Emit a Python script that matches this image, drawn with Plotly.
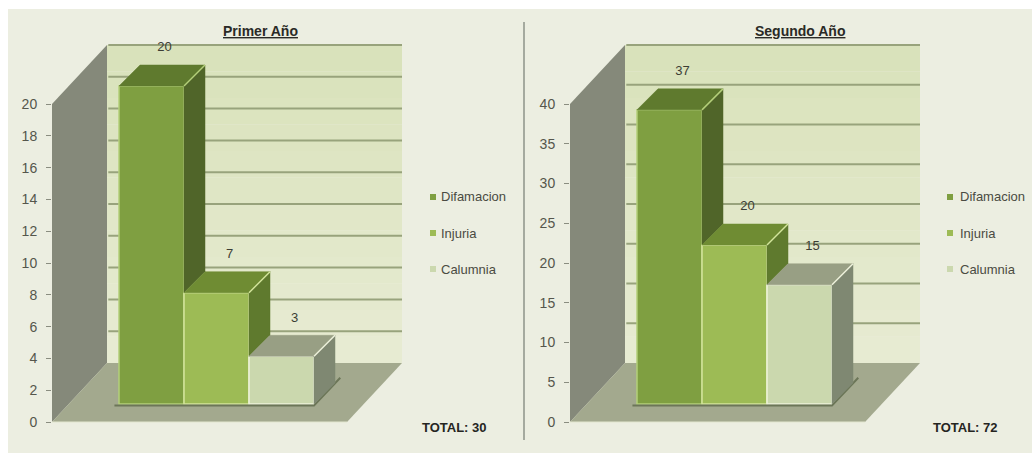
import plotly.graph_objects as go

categories = ["Difamacion", "Injuria", "Calumnia"]
titles = ["Primer Año", "Segundo Año"]
values_first = [20, 7, 3]
values_second = [37, 20, 15]
ticks_first = [0, 2, 4, 6, 8, 10, 12, 14, 16, 18, 20]
ticks_second = [0, 5, 10, 15, 20, 25, 30, 35, 40]
totals = ["TOTAL: 30", "TOTAL: 72"]

W, H = 1032, 454
FONT = "Liberation Sans, sans-serif"
FRONT = ["#7f9f41", "#9dbb55", "#cbd8ae"]
TOP = ["#5f7a2e", "#6f8c33", "#989f84"]
SIDE = ["#506529", "#5f7a2e", "#7f8872"]
EDGE = ["#b4cf7a", "#d3e59c", "#eef2dc"]
Y0, PX_TOP, PX_BOTTOM = 422, 30, 445
WALL_DX, WALL_DY, FLOOR_W, BAR_W, BAR_DX, BAR_DY, BASE_PX = 55, 59, 295, 65, 21, 21, 18

panels = [
    dict(values=values_first, ticks=ticks_first, ax=52, dom_end=515, bar0=119, pxu=15.9,
         title_x=260, leg_sw=433, leg_tx=439, total_x=454, suffix=""),
    dict(values=values_second, ticks=ticks_second, ax=570, dom_end=1030, bar0=637, pxu=7.95,
         title_x=800, leg_sw=950, leg_tx=958, total_x=965, suffix="2"),
]


def lerp(c1, c2, t):
    a = [int(c1[i:i + 2], 16) for i in (1, 3, 5)]
    b = [int(c2[i:i + 2], 16) for i in (1, 3, 5)]
    return "#" + "".join(f"{round(p + (q - p) * t):02x}" for p, q in zip(a, b))


fig = go.Figure()
shapes = [
    dict(type="rect", xref="paper", yref="paper", x0=8 / W, x1=1, y0=1 / H, y1=1 - 9 / H,
         fillcolor="#eceee1", line_width=0, layer="below"),
    dict(type="line", xref="paper", yref="paper", x0=524 / W, x1=524 / W, y0=1 - 440 / H, y1=1 - 22 / H,
         line=dict(color="#8e9388", width=1.5), layer="below"),
]
annotations = []

for p in panels:
    s = p["suffix"]
    xa, ya = "x" + s, "y" + s
    pxu = p["pxu"]
    # x unit: one bar width; x = 0 is the centre of the first bar
    cx0 = p["bar0"] + BAR_W / 2
    X = lambda px, c=cx0: (px - c) / BAR_W
    V = lambda py, u=pxu: (Y0 - py) / u
    ddx, wdy = WALL_DX / BAR_W, WALL_DY / pxu
    bdx, bdy = BAR_DX / BAR_W, BAR_DY / pxu
    base = BASE_PX / pxu
    ax = X(p["ax"])
    floor = FLOOR_W / BAR_W
    vmax = max(p["ticks"])

    fig.update_layout({
        "xaxis" + s: dict(domain=[p["ax"] / W, p["dom_end"] / W], range=[ax, X(p["dom_end"])],
                          visible=False, fixedrange=True),
        "yaxis" + s: dict(domain=[1 - PX_BOTTOM / H, 1 - PX_TOP / H], range=[V(PX_BOTTOM), V(PX_TOP)],
                          anchor=xa, tickvals=p["ticks"], ticks="outside", ticklen=5, tickcolor="#8a8d80",
                          tickwidth=1, showgrid=False, zeroline=False, showline=False, ticklabelstandoff=6,
                          tickfont=dict(family=FONT, size=14, color="#55564c"), fixedrange=True),
    })

    def poly(pts, color):
        path = "M" + " L".join(f"{a},{b}" for a, b in pts) + " Z"
        shapes.append(dict(type="path", xref=xa, yref=ya, path=path, fillcolor=color, line_width=0, layer="below"))

    # back wall as soft vertical gradient
    n = 12
    for i in range(n):
        lo, hi = vmax * i / n, vmax * (i + 1) / n
        poly([(ax + ddx, lo + wdy), (ax + ddx + floor, lo + wdy), (ax + ddx + floor, hi + wdy), (ax + ddx, hi + wdy)],
             lerp("#e7ebd2", "#d9e2bb", i / (n - 1)))
    # gridlines on the back wall
    for t in p["ticks"][1:]:
        shapes.append(dict(type="line", xref=xa, yref=ya, x0=ax + ddx + 0.02, x1=ax + ddx + floor,
                           y0=t + wdy, y1=t + wdy, line=dict(color="#98a37c", width=2), layer="below"))
    # side wall and floor
    poly([(ax, 0), (ax + ddx, wdy), (ax + ddx, vmax + wdy), (ax, vmax)], "#85897a")
    poly([(ax, 0), (ax + floor, 0), (ax + floor + ddx, wdy), (ax + ddx, wdy)], "#a3a98e")
    shapes.append(dict(type="line", xref=xa, yref=ya, x0=ax, x1=ax + floor, y0=0, y1=0,
                       line=dict(color="#e2e6d0", width=1), layer="below"))

    vals = p["values"]
    # ground shadow under the bars
    fig.add_trace(go.Scatter(x=[-0.57, 2.5, 2.5 + bdx * 1.25], y=[base - 1.6 / pxu, base - 1.6 / pxu, base + bdy * 1.25],
                             mode="lines", line=dict(color="#6c7658", width=2), hoverinfo="skip",
                             showlegend=False, xaxis=xa, yaxis=ya))
    for i, (cat, v) in enumerate(zip(categories, vals)):
        l, r = i - 0.5, i + 0.5
        top = base + v
        fig.add_trace(go.Bar(x=[i], y=[v], base=base, width=1, name=cat, showlegend=False,
                             marker=dict(color=FRONT[i], line=dict(color=EDGE[i], width=1.5)),
                             xaxis=xa, yaxis=ya))
        # visible part of the right side ends on the top of the next bar
        low = base + (vals[i + 1] if i + 1 < len(vals) else 0)
        fig.add_trace(go.Scatter(x=[r, r + bdx, r + bdx, r, r], y=[top, top + bdy, low + bdy, low, top],
                                 mode="lines", fill="toself", fillcolor=SIDE[i], line=dict(color=SIDE[i], width=0.5),
                                 hoverinfo="skip", showlegend=False, xaxis=xa, yaxis=ya))
        fig.add_trace(go.Scatter(x=[l, r, r + bdx, l + bdx, l], y=[top, top, top + bdy, top + bdy, top],
                                 mode="lines", fill="toself", fillcolor=TOP[i], line=dict(color=TOP[i], width=0.5),
                                 hoverinfo="skip", showlegend=False, xaxis=xa, yaxis=ya))
        fig.add_trace(go.Scatter(x=[r, r + bdx], y=[top, top + bdy], mode="lines",
                                 line=dict(color=EDGE[i], width=1.5), hoverinfo="skip",
                                 showlegend=False, xaxis=xa, yaxis=ya))
        # value label
        fig.add_trace(go.Scatter(x=[i + 13 / BAR_W], y=[top + 38 / pxu], mode="text", text=[str(v)],
                                 textfont=dict(family=FONT, size=13, color="#3c3d34"), hoverinfo="skip",
                                 showlegend=False, cliponaxis=False, xaxis=xa, yaxis=ya))
        # legend entry
        ly = [197, 233, 269][i]
        fig.add_trace(go.Scatter(x=[X(p["leg_sw"])], y=[V(ly)], mode="markers",
                                 marker=dict(symbol="square", size=6, color=FRONT[i]), hoverinfo="skip",
                                 showlegend=False, xaxis=xa, yaxis=ya))
        annotations.append(dict(xref="paper", yref="paper", x=p["leg_tx"] / W, y=1 - ly / H, text=cat,
                                showarrow=False, xanchor="left", yanchor="middle",
                                font=dict(family=FONT, size=13, color="#4a4b42")))

    title = titles[panels.index(p)]
    annotations.append(dict(xref="paper", yref="paper", x=p["title_x"] / W, y=1 - 31 / H,
                            text=f"<b><u>{title}</u></b>", showarrow=False, xanchor="center", yanchor="middle",
                            font=dict(family=FONT, size=14, color="#2a2a26")))
    annotations.append(dict(xref="paper", yref="paper", x=p["total_x"] / W, y=1 - 427 / H,
                            text=f"<b>{totals[panels.index(p)]}</b>", showarrow=False, xanchor="center",
                            yanchor="middle", font=dict(family=FONT, size=13, color="#25251f")))

fig.update_layout(width=W, height=H, margin=dict(l=0, r=0, t=0, b=0), paper_bgcolor="#ffffff",
                  plot_bgcolor="rgba(0,0,0,0)", showlegend=False, shapes=shapes, annotations=annotations,
                  barmode="overlay")
fig.write_html("out.html", config=dict(displayModeBar=False),
               post_script="document.body.style.margin='0';document.body.style.overflow='hidden';")
